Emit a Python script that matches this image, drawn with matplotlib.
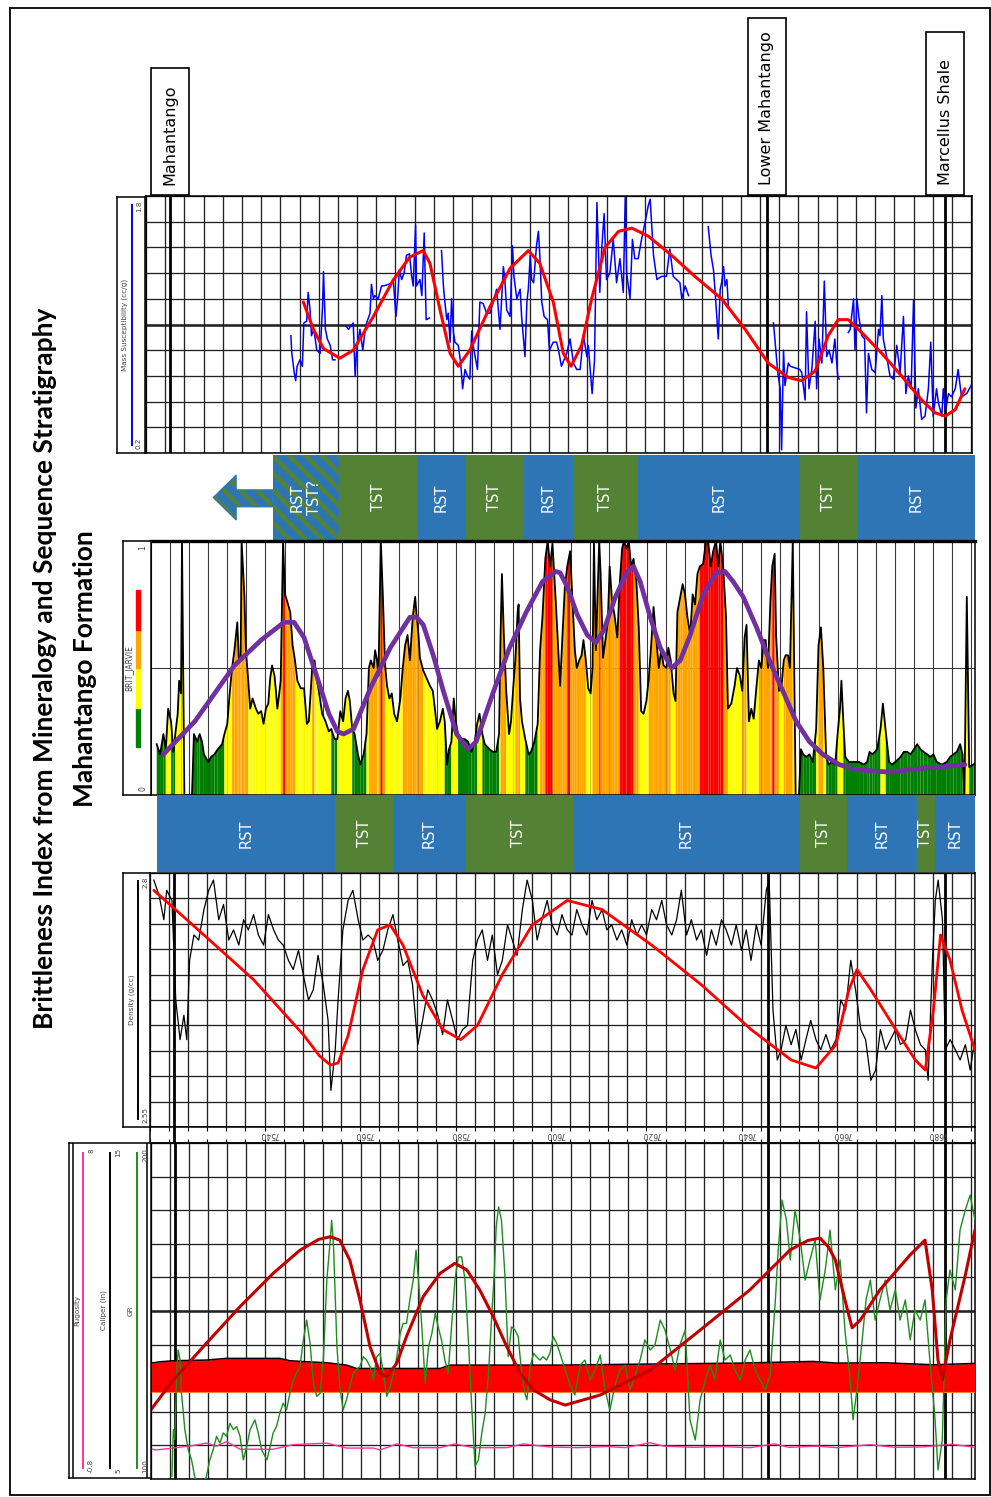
#!/usr/bin/env python3
"""Rotated well-log panel: brittleness index vs. sequence stratigraphy, Mahantango Fm."""

import numpy as np
import matplotlib

matplotlib.use("Agg")
import matplotlib.pyplot as plt
from matplotlib.patches import Rectangle, Polygon
from matplotlib.collections import PolyCollection
from matplotlib.transforms import blended_transform_factory

W, H = 991, 1497
TOP_DEPTH = 7516.0
PX_PER_FT = 4.797
GRID_STEP = 4
nan = float("nan")

FORMATION_DEPTHS = [7521.0, 7645.4, 7682.6]
FORMATION_NAMES = ["Mahantango", "Lower Mahantango", "Marcellus Shale"]

DEPTH_LABELS = [7540, 7560, 7580, 7600, 7620, 7640, 7660, 7680]

SEQ_UPPER_EDGES = [7542.4, 7556.3, 7572.5, 7582.5, 7594.6, 7605.0, 7618.6, 7652.3, 7664.4, 7688.8]
SEQ_UPPER_NAMES = ["RST\nTST?", "TST", "RST", "TST", "RST", "TST", "RST", "TST", "RST"]
SEQ_LOWER_EDGES = [7518.2, 7555.4, 7567.5, 7582.5, 7605.0, 7652.3, 7662.1, 7676.7, 7680.5, 7688.8]
SEQ_LOWER_NAMES = ["RST", "TST", "RST", "TST", "RST", "TST", "RST", "TST", "RST"]

# mass susceptibility (cc/g)
MS_CURVE = [
    (7546.2, 0.93), (7546.4, 0.82), (7546.9, 0.70), (7547.2, 0.65), (7547.5, 0.74), (7548.1, 0.78),
    (7548.6, 0.74), (7548.9, 1.01), (7549.5, 1.02), (7549.8, 1.20), (7550.2, 1.09), (7550.5, 0.93),
    (7551.0, 0.97), (7551.6, 0.84), (7552.3, 0.82), (7552.8, 1.11), (7553.0, 1.33), (7553.4, 0.97),
    (7553.8, 0.91), (7554.4, 0.87), (7554.9, 0.78), (7555.4, 0.78), (nan, nan),
    (7557.7, 0.99), (7558.2, 0.97), (7559.2, 1.01), (7559.6, 0.68), (7559.9, 0.84), (7560.6, 0.97),
    (7561.2, 0.84), (7561.7, 0.97), (7562.0, 1.01), (7562.7, 1.07), (7563.0, 1.25), (7563.4, 1.16),
    (7563.7, 1.18), (7564.4, 1.16), (7565.1, 1.24), (7565.5, 1.24), (7567.6, 1.26), (7568.1, 1.05),
    (7568.5, 1.18), (7568.8, 1.34), (7569.3, 1.28), (7569.8, 1.32), (7570.3, 1.43), (7570.9, 1.44),
    (7571.4, 1.30), (7571.7, 1.24), (7572.2, 1.62), (7572.4, 1.24), (7573.1, 1.28), (7573.5, 1.18),
    (7574.0, 1.57), (7574.2, 1.30), (7574.4, 1.03), (7575.1, 1.04), (nan, nan),
    (7577.6, 1.46), (7578.0, 1.24), (7578.3, 1.14), (7578.7, 1.03), (7579.0, 1.07), (7579.4, 0.89),
    (7579.7, 1.16), (7580.1, 0.95), (7580.4, 0.89), (7581.1, 0.87), (7581.6, 0.76), (7582.0, 0.60),
    (7582.5, 0.72), (7583.0, 0.68), (7583.5, 0.66), (7583.9, 0.96), (7584.2, 0.87), (7585.1, 0.72),
    (7585.6, 1.14), (7586.3, 1.13), (7587.0, 1.07), (7587.7, 1.07), (7588.4, 1.14), (7589.1, 1.22),
    (7589.8, 0.97), (7590.5, 1.36), (7590.8, 1.28), (7591.2, 1.09), (7591.9, 1.05), (7592.4, 1.49),
    (7592.7, 1.30), (7593.3, 1.16), (7594.0, 1.22), (7594.3, 1.05), (7595.0, 0.80), (7595.4, 1.14),
    (7595.7, 1.22), (7596.1, 1.43), (7596.4, 1.28), (7596.8, 1.26), (7597.4, 1.49), (7597.8, 1.58),
    (7598.1, 1.43), (7598.5, 1.14), (7599.0, 1.05), (7599.7, 1.03), (7600.1, 0.84), (7600.9, 0.89),
    (7601.6, 0.89), (7602.0, 0.84), (7602.6, 0.74), (7603.7, 0.82), (7604.4, 0.91), (7605.1, 0.76),
    (7605.8, 0.72), (7606.5, 0.72), (7607.2, 0.93), (7607.9, 0.80), (7608.2, 0.87), (7609.0, 0.57),
    (7609.5, 0.78), (7610.0, 1.76), (7610.6, 1.20), (7611.0, 1.47), (7611.5, 1.69), (7612.0, 1.28),
    (7612.7, 1.32), (7613.4, 1.53), (7614.1, 1.26), (7614.8, 1.41), (7615.5, 1.20), (7615.9, 1.79),
    (7616.2, 1.32), (7616.9, 1.16), (7617.4, 1.53), (7617.9, 1.41), (7618.6, 1.41), (7619.3, 1.53),
    (7620.0, 1.63), (7620.7, 1.74), (7621.1, 1.78), (7621.8, 1.43), (7622.5, 1.28), (7623.5, 1.30),
    (7624.5, 1.30), (7625.2, 1.47), (7625.9, 1.30), (7626.6, 1.28), (7627.3, 1.26), (7627.7, 1.16),
    (7628.4, 1.24), (7629.1, 1.18), (nan, nan),
    (7633.2, 1.61), (7633.8, 1.43), (7634.3, 1.34), (7634.6, 1.22), (7635.3, 0.91), (7635.7, 1.22),
    (7636.0, 1.26), (7636.4, 1.36), (7636.7, 1.24), (7637.1, 1.28), (7637.4, 1.11), (nan, nan),
    (7646.8, 1.01), (7647.1, 0.91), (7647.7, 0.70), (7648.2, 0.60), (7648.5, 0.22), (7648.9, 0.84),
    (7649.2, 0.62), (7649.9, 0.76), (7650.3, 0.74), (7652.3, 0.72), (7652.7, 0.70), (7653.4, 0.53),
    (7653.7, 1.08), (7654.2, 0.60), (7654.8, 0.72), (7655.5, 1.02), (7655.8, 0.60), (7656.3, 0.91),
    (7656.9, 0.76), (7657.4, 1.27), (7657.9, 0.80), (7658.4, 0.84), (7659.0, 0.76), (7659.6, 0.91),
    (7660.2, 0.68), (7660.5, 0.66), (nan, nan),
    (7662.4, 0.95), (7662.8, 0.97), (7663.5, 1.16), (7663.8, 0.84), (7664.2, 1.16), (7664.6, 1.05),
    (7665.2, 0.93), (7665.8, 0.91), (7666.2, 0.45), (7666.6, 0.82), (7667.3, 0.72), (7668.0, 0.70),
    (7668.7, 0.97), (7669.0, 0.93), (7669.4, 1.18), (7669.7, 0.91), (7670.4, 0.80), (7671.1, 0.68),
    (7671.8, 0.66), (7672.5, 0.87), (7673.2, 0.70), (7673.9, 1.05), (7674.4, 0.57), (7674.9, 0.68),
    (7675.5, 0.60), (7676.0, 1.15), (7676.5, 0.48), (7677.0, 0.60), (7677.7, 0.41), (7678.4, 0.43),
    (7679.1, 0.60), (7679.6, 0.89), (7680.1, 0.43), (7680.8, 0.60), (7681.2, 0.51), (7681.9, 0.43),
    (7682.2, 0.60), (7682.7, 0.47), (7683.3, 0.57), (7683.9, 0.55), (7684.7, 0.60), (7685.3, 0.72),
    (7686.0, 0.55), (7687.1, 0.57), (7688.0, 0.62),
]
MS_TREND = [
    (7548.8, 1.14), (7550.9, 0.97), (7553.0, 0.85), (7556.4, 0.79), (7559.2, 0.84), (7563.4, 1.05),
    (7567.6, 1.28), (7571.0, 1.42), (7573.8, 1.46), (7575.2, 1.38), (7577.3, 1.09), (7579.4, 0.82),
    (7581.1, 0.74), (7583.5, 0.84), (7587.7, 1.11), (7591.9, 1.35), (7595.7, 1.46), (7598.1, 1.38),
    (7600.9, 1.14), (7603.0, 0.82), (7604.6, 0.74), (7606.8, 0.87), (7608.9, 1.16), (7611.7, 1.48),
    (7614.5, 1.58), (7617.3, 1.60), (7620.7, 1.55), (7625.6, 1.43), (7630.4, 1.30), (7636.0, 1.16),
    (7640.9, 0.97), (7645.7, 0.76), (7649.9, 0.67), (7652.7, 0.65), (7655.5, 0.71), (7658.2, 0.93),
    (7660.3, 1.03), (7662.4, 1.03), (7665.2, 0.95), (7669.4, 0.82), (7673.5, 0.68), (7677.7, 0.53),
    (7680.5, 0.45), (7682.6, 0.43), (7684.7, 0.47), (7686.7, 0.60),
]

# BRIT_JARVIE brittleness index
BRIT_CURVE = [
    (7517.2, 0.20), (7517.9, 0.16), (7518.6, 0.24), (7519.1, 0.18), (7519.6, 0.34), (7520.2, 0.29),
    (7520.7, 0.17), (7521.1, 0.24), (7521.6, 0.32), (7521.9, 0.45), (7522.3, 0.40), (7522.5, 1.00),
    (7523.0, 0.00), (7524.6, 0.00), (7525.0, 0.24), (7525.7, 0.21), (7526.2, 0.24), (7526.7, 0.21),
    (7527.1, 0.16), (7528.0, 0.13), (7528.6, 0.15), (7529.3, 0.16), (7530.0, 0.18), (7530.9, 0.20),
    (7531.4, 0.24), (7532.0, 0.28), (7532.5, 0.40), (7533.0, 0.50), (7533.5, 0.57), (7534.1, 0.68),
    (7534.4, 0.54), (7534.8, 0.53), (7535.0, 1.00), (7535.6, 0.78), (7535.9, 0.57), (7536.4, 0.45),
    (7536.8, 0.34), (7537.3, 0.38), (7538.0, 0.34), (7538.5, 0.32), (7539.1, 0.33), (7539.6, 0.28),
    (7540.1, 0.34), (7540.6, 0.36), (7541.0, 0.46), (7541.4, 0.51), (7541.9, 0.47), (7542.2, 0.41),
    (7542.5, 0.34), (7542.9, 0.40), (7543.2, 0.45), (7543.7, 1.00), (7544.1, 0.79), (7544.6, 0.76),
    (7545.2, 0.72), (7545.7, 0.59), (7546.2, 0.53), (7546.7, 0.45), (7547.4, 0.42), (7548.1, 0.42),
    (7548.7, 0.28), (7549.1, 0.29), (7549.8, 0.50), (7550.3, 0.53), (7550.7, 0.46), (7551.2, 0.41),
    (7551.9, 0.32), (7552.6, 0.29), (7553.3, 0.25), (7553.8, 0.26), (7554.5, 0.22), (7555.1, 0.22),
    (7555.7, 0.33), (7556.3, 0.29), (7556.8, 0.38), (7557.3, 0.41), (7557.7, 0.37), (7558.2, 0.26),
    (7558.7, 0.24), (7559.4, 0.16), (7559.9, 0.12), (7560.6, 0.16), (7561.2, 0.24), (7561.7, 0.50),
    (7562.1, 0.53), (7562.7, 0.50), (7563.0, 0.57), (7563.4, 0.53), (7563.7, 0.47), (7564.2, 1.00),
    (7564.6, 0.80), (7565.1, 0.51), (7565.5, 0.43), (7566.0, 0.38), (7566.5, 0.40), (7567.0, 0.32),
    (7567.6, 0.29), (7568.3, 0.38), (7568.8, 0.50), (7569.3, 0.59), (7569.8, 0.63), (7570.3, 0.53),
    (7570.9, 0.70), (7571.4, 0.78), (7571.7, 0.71), (7572.1, 0.63), (7572.4, 0.54), (7573.1, 0.49),
    (7573.8, 0.46), (7574.5, 0.43), (7575.1, 0.41), (7575.6, 0.33), (7576.0, 0.26), (7576.6, 0.29),
    (7577.2, 0.34), (7577.6, 0.29), (7578.1, 0.12), (7578.5, 0.18), (7579.0, 0.21), (7579.5, 0.38),
    (7579.9, 0.29), (7580.4, 0.24), (7581.1, 0.22), (7581.8, 0.22), (7582.5, 0.21), (7583.2, 0.17),
    (7583.9, 0.21), (7584.4, 0.28), (7584.9, 0.32), (7585.5, 0.24), (7586.0, 0.20), (7587.0, 0.18),
    (7587.7, 0.17), (7588.4, 0.17), (7589.0, 0.24), (7589.3, 0.62), (7589.6, 0.87), (7590.0, 0.63),
    (7590.5, 0.41), (7591.1, 0.24), (7591.5, 0.29), (7592.0, 0.43), (7592.4, 0.53), (7592.9, 0.72),
    (7593.1, 0.75), (7593.4, 0.38), (7593.8, 0.29), (7594.5, 0.22), (7595.2, 0.16), (7595.7, 0.17),
    (7596.4, 0.21), (7597.1, 0.28), (7597.6, 0.57), (7598.1, 0.70), (7598.7, 0.93), (7599.2, 1.00),
    (7599.7, 0.90), (7600.2, 0.99), (7600.9, 0.76), (7601.8, 0.43), (7602.3, 0.63), (7602.8, 0.82),
    (7603.3, 0.90), (7603.9, 0.96), (7604.4, 0.76), (7604.9, 0.57), (7605.3, 0.50), (7605.8, 0.53),
    (7606.3, 0.55), (7606.7, 0.61), (7607.2, 0.53), (7607.7, 0.42), (7608.2, 0.40), (7608.6, 0.50),
    (7608.9, 1.00), (7609.3, 0.57), (7610.0, 1.00), (7610.3, 0.87), (7610.8, 0.54), (7611.3, 0.61),
    (7611.8, 0.68), (7612.2, 0.90), (7612.7, 0.76), (7613.2, 0.71), (7613.8, 0.62), (7614.3, 0.83),
    (7614.8, 0.97), (7615.2, 1.00), (7615.7, 0.97), (7616.2, 1.00), (7616.7, 0.90), (7617.2, 0.93),
    (7617.8, 0.84), (7618.3, 0.66), (7618.8, 0.33), (7619.3, 0.32), (7619.9, 0.37), (7620.4, 0.46),
    (7620.9, 0.59), (7621.4, 0.74), (7621.9, 0.63), (7622.5, 0.50), (7623.0, 0.57), (7623.5, 0.51),
    (7624.1, 0.50), (7624.5, 0.58), (7625.0, 0.53), (7625.6, 0.40), (7626.0, 0.37), (7626.4, 0.72),
    (7627.0, 0.78), (7627.5, 0.83), (7628.0, 0.79), (7628.5, 0.70), (7629.1, 0.63), (7629.6, 0.79),
    (7630.1, 0.75), (7630.6, 0.87), (7631.1, 0.90), (7631.8, 0.91), (7632.4, 1.00), (7632.9, 0.99),
    (7633.4, 0.90), (7633.9, 0.96), (7634.5, 1.00), (7635.0, 0.90), (7635.4, 1.00), (7636.0, 0.90),
    (7636.6, 0.70), (7637.0, 0.34), (7637.7, 0.36), (7638.4, 0.43), (7638.9, 0.50), (7639.5, 0.47),
    (7640.0, 0.41), (7640.5, 0.62), (7640.9, 0.67), (7641.4, 0.29), (7641.9, 0.34), (7642.4, 0.30),
    (7643.0, 0.43), (7643.5, 0.53), (7644.0, 0.50), (7644.5, 0.61), (7644.9, 0.61), (7645.4, 0.50),
    (7645.9, 0.76), (7646.3, 0.90), (7646.8, 0.95), (7647.1, 0.63), (7647.7, 0.41), (7648.2, 0.42),
    (7648.7, 0.53), (7649.1, 0.55), (7649.6, 0.55), (7650.0, 0.50), (7650.6, 1.00), (7651.2, 0.00),
    (7651.9, 0.00), (7652.3, 0.18), (7652.8, 0.16), (7653.4, 0.15), (7654.1, 0.16), (7654.8, 0.13),
    (7655.5, 0.26), (7656.0, 0.59), (7656.5, 0.66), (7657.0, 0.50), (7657.6, 0.15), (7658.1, 0.12),
    (7658.8, 0.13), (7659.5, 0.12), (7660.0, 0.24), (7660.5, 0.34), (7660.8, 0.45), (7661.2, 0.29),
    (7661.6, 0.15), (7662.4, 0.13), (7663.5, 0.13), (7664.5, 0.13), (7665.5, 0.12), (7666.2, 0.13),
    (7666.7, 0.17), (7667.3, 0.16), (7667.8, 0.17), (7668.3, 0.18), (7669.0, 0.26), (7669.5, 0.36),
    (7670.1, 0.25), (7670.8, 0.13), (7671.4, 0.12), (7672.1, 0.13), (7673.2, 0.15), (7673.9, 0.17),
    (7674.6, 0.17), (7675.3, 0.16), (7676.0, 0.18), (7676.7, 0.20), (7677.4, 0.18), (7678.0, 0.17),
    (7678.8, 0.16), (7679.4, 0.15), (7680.1, 0.16), (7680.8, 0.13), (7681.9, 0.12), (7682.9, 0.13),
    (7683.6, 0.15), (7684.3, 0.16), (7685.0, 0.17), (7685.7, 0.20), (7686.2, 0.16), (7686.6, 0.00),
    (7687.1, 0.78), (7687.6, 0.11), (7688.5, 0.12), (7689.2, 0.13),
]
BRIT_TREND = [
    (7518.6, 0.16), (7525.2, 0.29), (7533.5, 0.51), (7539.1, 0.61), (7543.9, 0.68), (7546.0, 0.68),
    (7548.1, 0.62), (7550.9, 0.46), (7553.3, 0.32), (7555.1, 0.25), (7556.4, 0.24), (7558.5, 0.26),
    (7562.0, 0.42), (7566.2, 0.58), (7570.3, 0.70), (7571.7, 0.70), (7573.1, 0.67), (7575.2, 0.55),
    (7577.3, 0.41), (7580.1, 0.24), (7582.5, 0.18), (7584.2, 0.21), (7587.7, 0.40), (7591.2, 0.58),
    (7594.7, 0.72), (7598.1, 0.84), (7600.9, 0.88), (7601.8, 0.875), (7603.3, 0.82), (7605.4, 0.71),
    (7607.5, 0.63), (7609.3, 0.60), (7611.0, 0.65), (7613.4, 0.78), (7615.9, 0.88), (7617.2, 0.90),
    (7618.6, 0.84), (7620.7, 0.70), (7622.8, 0.58), (7625.2, 0.50), (7627.0, 0.53), (7629.1, 0.63),
    (7631.8, 0.79), (7634.6, 0.875), (7636.4, 0.88), (7638.1, 0.84), (7640.2, 0.78), (7643.0, 0.66),
    (7645.7, 0.53), (7648.5, 0.41), (7651.3, 0.29), (7654.1, 0.21), (7656.9, 0.16), (7660.3, 0.12),
    (7663.8, 0.10), (7670.8, 0.09), (7677.7, 0.105), (7681.2, 0.11), (7686.7, 0.12),
]
BRIT_BREAKS = [0.25, 0.5, 0.89]
BRIT_COLORS = ["#008000", "#FFFF00", "#FFA500", "#FF0000"]

# bulk density (g/cc)
DEN_CURVE = [
    (7516.8, 2.793), (7517.9, 2.778), (7518.9, 2.754), (7519.5, 2.783), (7520.6, 2.773), (7521.4, 2.675),
    (7522.3, 2.636), (7523.1, 2.660), (7523.7, 2.636), (7524.3, 2.714), (7525.2, 2.739), (7526.2, 2.734),
    (7527.3, 2.764), (7528.3, 2.783), (7529.3, 2.793), (7530.4, 2.754), (7531.4, 2.769), (7532.5, 2.734),
    (7533.5, 2.744), (7534.6, 2.729), (7535.6, 2.754), (7536.6, 2.744), (7537.7, 2.759), (7538.7, 2.739),
    (7539.8, 2.729), (7540.8, 2.759), (7541.9, 2.744), (7542.9, 2.734), (7543.9, 2.729), (7545.0, 2.714),
    (7546.0, 2.705), (7547.1, 2.724), (7548.1, 2.700), (7549.2, 2.675), (7550.2, 2.685), (7551.2, 2.719),
    (7552.3, 2.690), (7553.3, 2.655), (7553.9, 2.586), (7554.8, 2.626), (7555.4, 2.675), (7556.4, 2.744),
    (7557.5, 2.773), (7558.5, 2.783), (7559.6, 2.754), (7560.6, 2.734), (7561.7, 2.739), (7562.7, 2.734),
    (7563.7, 2.714), (7564.8, 2.724), (7565.8, 2.744), (7566.9, 2.759), (7567.9, 2.734), (7569.0, 2.709),
    (7570.0, 2.714), (7571.0, 2.690), (7572.1, 2.631), (7573.1, 2.655), (7574.2, 2.685), (7575.2, 2.675),
    (7576.3, 2.660), (7577.3, 2.641), (7578.3, 2.675), (7579.4, 2.655), (7580.4, 2.636), (7581.5, 2.646),
    (7582.5, 2.650), (7583.6, 2.714), (7584.6, 2.734), (7585.6, 2.744), (7586.7, 2.714), (7587.7, 2.739),
    (7588.8, 2.700), (7589.8, 2.714), (7590.9, 2.749), (7591.9, 2.734), (7592.9, 2.719), (7594.0, 2.764),
    (7595.0, 2.793), (7596.1, 2.773), (7597.1, 2.734), (7598.1, 2.754), (7599.2, 2.773), (7600.2, 2.749),
    (7601.3, 2.739), (7602.3, 2.759), (7603.4, 2.744), (7604.4, 2.739), (7605.4, 2.764), (7606.5, 2.749),
    (7607.5, 2.739), (7608.6, 2.773), (7609.6, 2.754), (7610.7, 2.764), (7611.7, 2.744), (7612.7, 2.749),
    (7613.8, 2.734), (7614.8, 2.744), (7615.9, 2.729), (7616.9, 2.754), (7618.0, 2.739), (7619.0, 2.749),
    (7620.0, 2.739), (7621.1, 2.764), (7622.1, 2.754), (7623.2, 2.773), (7624.2, 2.749), (7625.3, 2.739),
    (7626.3, 2.754), (7627.3, 2.783), (7628.4, 2.739), (7629.4, 2.754), (7630.5, 2.734), (7631.5, 2.744),
    (7632.6, 2.719), (7633.6, 2.744), (7634.6, 2.729), (7635.7, 2.754), (7636.7, 2.744), (7637.8, 2.729),
    (7638.8, 2.749), (7639.9, 2.724), (7640.9, 2.744), (7641.9, 2.714), (7643.0, 2.749), (7644.0, 2.729),
    (7645.1, 2.783), (7645.7, 2.793), (7646.5, 2.665), (7647.4, 2.616), (7648.2, 2.626), (7649.2, 2.650),
    (7650.3, 2.631), (7651.3, 2.646), (7652.4, 2.616), (7653.4, 2.636), (7654.4, 2.655), (7655.5, 2.636),
    (7656.5, 2.626), (7657.6, 2.641), (7658.6, 2.626), (7659.7, 2.636), (7660.7, 2.675), (7661.7, 2.665),
    (7662.8, 2.714), (7663.8, 2.685), (7664.9, 2.646), (7665.9, 2.636), (7667.0, 2.596), (7668.0, 2.606),
    (7669.0, 2.646), (7670.1, 2.626), (7671.1, 2.636), (7672.2, 2.646), (7673.2, 2.631), (7674.3, 2.636),
    (7675.3, 2.665), (7676.3, 2.646), (7677.4, 2.631), (7678.4, 2.626), (7679.0, 2.596), (7679.9, 2.714),
    (7680.5, 2.773), (7681.1, 2.793), (7682.0, 2.754), (7682.6, 2.626), (7683.6, 2.636), (7684.7, 2.626),
    (7685.7, 2.616), (7686.8, 2.631), (7687.8, 2.606), (7688.8, 2.636),
]
DEN_TREND = [
    (7516.8, 2.783), (7527.3, 2.739), (7537.7, 2.695), (7548.1, 2.641), (7551.5, 2.620), (7553.8, 2.611),
    (7555.4, 2.613), (7557.5, 2.640), (7560.6, 2.705), (7563.7, 2.744), (7566.3, 2.749), (7569.0, 2.729),
    (7573.1, 2.680), (7577.3, 2.646), (7581.1, 2.636), (7584.6, 2.650), (7589.8, 2.700), (7596.1, 2.749),
    (7603.4, 2.773), (7610.7, 2.764), (7621.1, 2.729), (7631.5, 2.690), (7641.9, 2.646), (7650.3, 2.616),
    (7655.5, 2.608), (7659.7, 2.631), (7662.4, 2.685), (7664.1, 2.705), (7667.0, 2.685), (7672.2, 2.646),
    (7676.3, 2.616), (7678.4, 2.606), (7680.1, 2.665), (7681.6, 2.739), (7683.6, 2.714), (7686.1, 2.665),
    (7688.8, 2.626),
]

# gamma ray (API)
GR_CURVE = [
    (7521.4, 100.8), (7521.7, 114.7), (7522.0, 111.7), (7522.4, 131.5), (7522.7, 138.4), (7523.1, 135.4),
    (7523.4, 125.5), (7524.1, 114.7), (7524.8, 108.7), (7525.5, 105.7), (7526.2, 100.3), (7527.3, 95.0),
    (7528.6, 100.8), (7529.3, 105.7), (7530.0, 108.7), (7530.7, 112.7), (7531.4, 110.7), (7532.1, 113.7),
    (7532.8, 112.7), (7533.5, 116.6), (7534.2, 114.7), (7534.9, 115.6), (7535.6, 112.7), (7536.3, 105.7),
    (7537.0, 109.7), (7537.7, 114.7), (7538.7, 117.6), (7539.4, 113.7), (7540.1, 108.7), (7541.2, 105.7),
    (7541.9, 109.7), (7542.5, 113.7), (7543.2, 115.6), (7543.9, 119.6), (7544.6, 122.6), (7545.3, 120.6),
    (7546.0, 125.5), (7546.7, 129.5), (7547.4, 131.5), (7548.1, 133.5), (7548.8, 141.4), (7549.5, 147.3),
    (7550.2, 140.4), (7550.9, 128.5), (7551.6, 124.6), (7552.3, 125.5), (7553.0, 136.4), (7553.7, 159.2),
    (7554.4, 171.1), (7554.7, 177.0), (7555.1, 169.1), (7555.8, 139.4), (7556.4, 127.5), (7557.1, 120.6),
    (7557.8, 123.6), (7558.5, 127.5), (7559.2, 131.5), (7559.9, 132.5), (7560.6, 133.5), (7561.3, 136.4),
    (7562.0, 135.4), (7562.7, 133.5), (7563.4, 129.5), (7564.1, 136.4), (7564.8, 137.4), (7565.5, 131.5),
    (7566.2, 124.6), (7566.9, 127.5), (7567.6, 131.5), (7568.3, 136.4), (7569.0, 143.4), (7569.6, 146.3),
    (7570.3, 146.3), (7571.0, 153.3), (7571.7, 159.2), (7572.3, 168.1), (7572.8, 159.2), (7573.5, 145.3),
    (7574.2, 128.5), (7574.9, 139.4), (7575.6, 143.4), (7576.3, 149.3), (7576.9, 145.3), (7577.6, 141.4),
    (7578.3, 135.4), (7579.0, 131.5), (7579.7, 145.3), (7580.4, 159.2), (7581.1, 166.1), (7581.8, 166.1),
    (7582.5, 159.2), (7583.2, 141.4), (7583.9, 121.6), (7584.6, 103.8), (7585.3, 105.7), (7586.0, 113.7),
    (7586.7, 119.6), (7587.4, 131.5), (7588.1, 149.3), (7588.6, 161.2), (7589.0, 175.0), (7589.5, 181.0),
    (7590.1, 177.0), (7590.8, 161.2), (7591.5, 136.4), (7592.2, 145.3), (7592.9, 144.4), (7593.6, 142.4),
    (7594.3, 131.5), (7595.0, 125.5), (7595.4, 123.6), (7596.1, 133.5), (7596.8, 137.4), (7597.4, 136.4),
    (7598.1, 135.4), (7598.8, 136.4), (7599.5, 135.4), (7600.2, 137.4), (7600.9, 142.4), (7601.6, 140.4),
    (7602.3, 137.4), (7603.4, 132.4), (7604.4, 128.0), (7605.4, 125.0), (7606.5, 133.9), (7607.5, 135.4),
    (7608.6, 129.5), (7609.6, 132.4), (7610.7, 136.9), (7611.7, 126.5), (7612.7, 120.5), (7613.8, 128.0),
    (7614.8, 132.4), (7615.9, 133.9), (7616.9, 126.5), (7618.0, 130.9), (7619.0, 135.4), (7620.0, 141.4),
    (7621.1, 138.4), (7622.1, 139.9), (7623.2, 147.3), (7624.2, 144.3), (7625.3, 138.4), (7626.3, 132.4),
    (7627.3, 139.9), (7628.4, 144.3), (7629.4, 117.6), (7630.5, 111.6), (7631.5, 123.5), (7632.6, 129.5),
    (7633.6, 133.9), (7634.6, 129.5), (7635.7, 141.4), (7636.7, 135.4), (7637.8, 136.9), (7638.8, 132.4),
    (7639.9, 129.5), (7640.9, 135.4), (7641.9, 138.4), (7643.0, 132.4), (7644.0, 129.5), (7645.1, 126.5),
    (7646.1, 130.9), (7647.2, 153.3), (7647.8, 168.2), (7648.6, 183.0), (7649.5, 177.1), (7650.3, 165.2),
    (7651.3, 180.1), (7652.4, 171.1), (7653.4, 159.2), (7654.4, 165.2), (7655.5, 171.1), (7656.5, 153.3),
    (7657.6, 162.2), (7658.6, 174.1), (7659.7, 156.3), (7660.7, 165.2), (7661.7, 144.3), (7662.8, 129.5),
    (7663.4, 117.6), (7664.2, 126.5), (7665.3, 141.4), (7666.1, 153.3), (7667.0, 159.2), (7668.0, 147.3),
    (7669.0, 153.3), (7670.1, 159.2), (7671.1, 150.3), (7672.2, 156.3), (7673.2, 147.3), (7674.3, 153.3),
    (7675.3, 141.4), (7676.3, 150.3), (7677.4, 147.3), (7678.4, 153.3), (7679.4, 135.4), (7680.5, 117.6),
    (7681.1, 102.7), (7682.0, 111.6), (7682.8, 153.3), (7683.6, 162.2), (7684.7, 156.3), (7685.7, 174.1),
    (7686.8, 180.1), (7687.8, 184.5), (7688.8, 177.1),
]
GR_TREND = [
    (7516.5, 119.6), (7521.7, 129.5), (7528.6, 140.4), (7535.6, 151.3), (7542.5, 161.2), (7548.1, 168.1),
    (7552.0, 171.3), (7554.4, 172.1), (7556.4, 171.1), (7558.5, 165.1), (7560.6, 153.3), (7562.7, 139.4),
    (7564.8, 131.5), (7566.2, 130.5), (7568.3, 134.5), (7570.3, 142.4), (7573.8, 154.3), (7577.3, 161.2),
    (7580.4, 164.2), (7582.9, 162.2), (7585.6, 156.2), (7588.4, 148.3), (7591.2, 139.4), (7594.0, 131.5),
    (7596.8, 126.5), (7600.2, 123.6), (7603.4, 122.0), (7610.7, 125.0), (7621.1, 132.4), (7631.5, 144.3),
    (7641.9, 156.3), (7650.3, 168.2), (7654.0, 171.0), (7656.5, 171.7), (7658.3, 169.0), (7659.7, 165.2),
    (7661.7, 153.3), (7663.2, 145.0), (7664.9, 147.3), (7669.0, 156.3), (7675.3, 166.7), (7678.4, 171.1),
    (7679.9, 156.3), (7681.1, 135.4), (7682.0, 129.5), (7683.6, 141.4), (7686.8, 160.7), (7688.8, 174.1),
]

# caliper (in) and bit size
CALIPER = [
    (7516.5, 8.44), (7519.0, 8.49), (7521.7, 8.52), (7528.6, 8.54), (7532.8, 8.59), (7543.9, 8.59),
    (7546.0, 8.52), (7549.5, 8.49), (7553.7, 8.46), (7557.8, 8.39), (7559.9, 8.29), (7577.3, 8.29),
    (7579.4, 8.39), (7602.3, 8.39), (7620.0, 8.42), (7640.0, 8.45), (7655.0, 8.50), (7660.0, 8.45),
    (7670.0, 8.46), (7680.0, 8.40), (7688.8, 8.44),
]
BIT_SIZE = 7.58

# rugosity
RUGOSITY = [
    (7516.5, 0.01), (7518.0, -0.04), (7521.0, 0.00), (7526.0, 0.08), (7528.6, 0.14), (7530.7, 0.06),
    (7532.8, 0.18), (7535.6, -0.02), (7542.5, -0.02), (7546.7, 0.10), (7553.7, 0.14), (7557.8, 0.01),
    (7563.4, 0.01), (7564.8, -0.04), (7568.3, 0.12), (7571.7, 0.02), (7577.3, 0.02), (7580.4, 0.12),
    (7584.2, 0.02), (7591.2, 0.02), (7594.7, 0.12), (7600.0, 0.04), (7606.0, 0.02), (7612.0, 0.05),
    (7616.0, 0.02), (7621.0, 0.15), (7624.0, 0.06), (7630.0, 0.03), (7636.0, 0.05), (7642.0, 0.02),
    (7647.0, 0.12), (7650.0, 0.03), (7656.0, 0.06), (7660.0, 0.02), (7667.0, 0.10), (7672.0, 0.03),
    (7678.0, 0.04), (7684.0, 0.11), (7688.8, 0.03),
]

BLUE = "#2E75B6"
GREEN = "#548235"
GRID_C = "#222222"
LABEL_C = "#444444"

plt.rcParams["font.family"] = ["DejaVu Sans"]
plt.rcParams["hatch.linewidth"] = 3.2


def cols(points):
    a = np.array(points, dtype=float)
    return a[:, 0], a[:, 1]


def px_axes(fig, x0, y0, x1, y1):
    return fig.add_axes([x0 / W, 1 - y1 / H, (x1 - x0) / W, (y1 - y0) / H])


def track_axes(fig, x0, y0, x1, y1, ylim):
    ax = px_axes(fig, x0, y0, x1, y1)
    ax.set_xlim(TOP_DEPTH + (x0 - 146) / PX_PER_FT, TOP_DEPTH + (x1 - 146) / PX_PER_FT)
    ax.set_ylim(*ylim)
    ax.tick_params(length=0, labelbottom=False, labelleft=False)
    for s in ax.spines.values():
        s.set_linewidth(1.1)
    return ax


def grid_track(ax, n_rows, heavy=None, color=GRID_C, lw=0.95):
    ax.set_xticks(np.arange(7516, 7689, GRID_STEP))
    lo, hi = ax.get_ylim()
    ax.set_yticks(np.linspace(lo, hi, n_rows + 1))
    ax.grid(True, color=color, lw=lw)
    ax.set_axisbelow(True)
    if heavy is not None:
        ax.axhline(heavy, color=GRID_C, lw=1.8, zorder=0.5)


def formation_lines(ax):
    for d in FORMATION_DEPTHS:
        ax.axvline(d, color="black", lw=2.0, zorder=1.5)


def seq_column(ax, edges, names, fs=10.5):
    ax.axis("off")
    for d0, d1, name in zip(edges[:-1], edges[1:], names):
        if name == "TST":
            ax.axvspan(d0, d1, color=GREEN, lw=0)
        elif name == "RST":
            ax.axvspan(d0, d1, color=BLUE, lw=0)
        else:
            ax.axvspan(d0, d1, facecolor=BLUE, edgecolor=GREEN, hatch="\\\\", lw=0)
        ax.text((d0 + d1) / 2, 0.5, name, rotation=90, color="white", fontsize=fs,
                ha="center", va="center", transform=ax.get_xaxis_transform(),
                linespacing=1.25)


def header_scale(ax, text, lo, hi, x_text, x_line, x_val, color, fs=5.2):
    ax.text(x_text, 0.5, text, rotation=90, ha="center", va="center",
            fontsize=fs, color=LABEL_C, transform=ax.transAxes)
    ax.text(x_val, 0.015, lo, rotation=90, ha="center", va="bottom",
            fontsize=fs, color=LABEL_C, transform=ax.transAxes)
    ax.text(x_val, 0.985, hi, rotation=90, ha="center", va="top",
            fontsize=fs, color=LABEL_C, transform=ax.transAxes)
    if color is not None:
        ax.plot([x_line, x_line], [0.03, 0.97], color=color, lw=1.4, transform=ax.transAxes)


def header_axes(fig, x0, y0, x1, y1):
    ax = px_axes(fig, x0, y0, x1, y1)
    ax.set_xticks([])
    ax.set_yticks([])
    for s in ax.spines.values():
        s.set_linewidth(1.1)
    return ax


def main():
    fig = plt.figure(figsize=(W / 100, H / 100), dpi=100)

    # outer frame
    fig.add_artist(Rectangle((10 / W, 1 - 1495 / H), 980 / W, 1487 / H,
                             transform=fig.transFigure, fill=False, ec="black", lw=1.3))

    # titles
    title_font = ["Lato", "DejaVu Sans"]
    fig.text(45 / W, 1 - 668 / H, "Brittleness Index from Mineralogy and Sequence Stratigraphy",
             rotation=90, ha="center", va="center", fontsize=19, fontweight="bold",
             family=title_font)
    fig.text(85 / W, 1 - 669 / H, "Mahantango Formation", rotation=90, ha="center",
             va="center", fontsize=19, fontweight="bold", family=title_font)

    # ---- mass susceptibility
    ax_ms = track_axes(fig, 146, 196, 972, 453, (0.2, 1.8))
    grid_track(ax_ms, 10, heavy=1.0)
    formation_lines(ax_ms)
    d, v = cols(MS_CURVE)
    ax_ms.plot(d, v, color="#0000FF", lw=1.1, zorder=3)
    d, v = cols(MS_TREND)
    ax_ms.plot(d, v, color="#FF0000", lw=2.2, zorder=4, solid_capstyle="round",
               solid_joinstyle="round")

    # formation top labels
    trans = blended_transform_factory(ax_ms.transData, fig.transFigure)
    half = 19 / PX_PER_FT
    for dep, name, top in zip(FORMATION_DEPTHS, FORMATION_NAMES, [68, 18, 32]):
        fig.add_artist(Rectangle((dep - half, 1 - 195 / H), 2 * half, (195 - top) / H,
                                 transform=trans, fc="white", ec="black", lw=1.2))
        fig.text(dep, 1 - 185 / H, name, rotation=90, ha="center", va="bottom",
                 fontsize=11.5, transform=trans)

    # ---- upper sequence column
    ax_su = track_axes(fig, 146, 455, 976, 540, (0, 1))
    seq_column(ax_su, SEQ_UPPER_EDGES, SEQ_UPPER_NAMES)
    arrow = [(7530.0, 0.50), (7534.8, 0.765), (7534.8, 0.59), (SEQ_UPPER_EDGES[0], 0.59),
             (SEQ_UPPER_EDGES[0], 0.39), (7534.8, 0.39), (7534.8, 0.235)]
    ax_su.add_patch(Polygon(arrow, closed=True, facecolor=BLUE, edgecolor=GREEN, hatch="\\\\",
                            lw=0, transform=ax_su.get_xaxis_transform()))
    ax_su.add_patch(Polygon(arrow, closed=True, fill=False, edgecolor=BLUE, lw=0.8,
                            transform=ax_su.get_xaxis_transform()))

    # ---- BRIT track
    ax_b = track_axes(fig, 151, 541, 975, 795, (0, 1))
    ax_b.set_xticks(np.arange(7516, 7689, GRID_STEP))
    ax_b.set_yticks([0.5])
    ax_b.grid(True, color="#3a3a3a", lw=0.8)
    ax_b.set_axisbelow(True)
    ax_b.spines["top"].set_linewidth(2.4)
    d, v = cols(BRIT_CURVE)
    polys, fills = [], []
    for i in range(len(d) - 1):
        polys.append([(d[i], 0), (d[i], v[i]), (d[i + 1], v[i + 1]), (d[i + 1], 0)])
        k = int(np.searchsorted(BRIT_BREAKS, 0.5 * (v[i] + v[i + 1])))
        fills.append(BRIT_COLORS[k])
    ax_b.add_collection(PolyCollection(polys, facecolors=fills, edgecolors="none", zorder=2))
    ax_b.plot(d, v, color="black", lw=1.3, zorder=3)
    d, v = cols(BRIT_TREND)
    ax_b.plot(d, v, color="#7030A0", lw=3.4, zorder=4, solid_capstyle="round",
              solid_joinstyle="round")

    # ---- lower sequence column
    ax_sl = track_axes(fig, 146, 795, 976, 872, (0, 1))
    seq_column(ax_sl, SEQ_LOWER_EDGES, SEQ_LOWER_NAMES)

    # ---- density
    ax_d = track_axes(fig, 150, 873, 975, 1127, (2.55, 2.8))
    grid_track(ax_d, 10)
    formation_lines(ax_d)
    d, v = cols(DEN_CURVE)
    ax_d.plot(d, v, color="black", lw=0.9, zorder=3)
    d, v = cols(DEN_TREND)
    ax_d.plot(d, v, color="#FF0000", lw=2.0, zorder=4, solid_capstyle="round",
              solid_joinstyle="round")

    # ---- depth track
    ax_z = track_axes(fig, 150, 1127, 975, 1143, (0, 1))
    ax_z.set_xticks(np.arange(7516, 7689, GRID_STEP))
    ax_z.tick_params(axis="x", length=3, width=0.8, direction="in", top=True, bottom=True,
                     labelbottom=False)
    formation_lines(ax_z)
    for dep in DEPTH_LABELS:
        ax_z.annotate(str(dep), xy=(dep, 0.5), xycoords=("data", "axes fraction"),
                      xytext=(5, 0), textcoords="offset pixels", rotation=180,
                      ha="center", va="center", fontsize=5.5, color=LABEL_C)

    # ---- GR / caliper / rugosity
    ax_g = track_axes(fig, 151, 1143, 975, 1479, (100, 200))
    grid_track(ax_g, 10, heavy=150)
    formation_lines(ax_g)
    ax_c = track_axes(fig, 151, 1143, 975, 1479, (5, 15))
    ax_c.axis("off")
    d, v = cols(CALIPER)
    ax_c.fill_between(d, BIT_SIZE, v, color="#FF0000", lw=0, zorder=2)
    ax_c.plot(d, v, color="black", lw=1.1, zorder=3)
    ax_c.axhline(BIT_SIZE, color="#FF8040", lw=0.8, zorder=3)
    ax_r = track_axes(fig, 151, 1143, 975, 1479, (-0.8, 8))
    ax_r.axis("off")
    d, v = cols(RUGOSITY)
    ax_r.plot(d, v, color="#FF3399", lw=1.0, zorder=3)
    ax_gr = track_axes(fig, 151, 1143, 975, 1479, (100, 200))
    ax_gr.axis("off")
    d, v = cols(GR_CURVE)
    ax_gr.plot(d, v, color="#1E8C1E", lw=1.0, zorder=3)
    d, v = cols(GR_TREND)
    ax_gr.plot(d, v, color="#C00000", lw=2.2, zorder=4, solid_capstyle="round",
               solid_joinstyle="round")

    # ---- headers
    h = header_axes(fig, 117, 197, 145, 453)
    header_scale(h, "Mass Susceptibility (cc/g)", "0.2", "1.8", 0.29, 0.52, 0.78, "#0000FF")

    h = header_axes(fig, 123, 541, 151, 795)
    header_scale(h, "BRIT_JARVIE", "0", "1", 0.25, 0.5, 0.72, None, fs=5.5)
    bands = [0.189, 0.343, 0.5, 0.65, 0.807]
    for c, b0, b1 in zip(BRIT_COLORS, bands[:-1], bands[1:]):
        h.add_patch(Rectangle((0.45, b0), 0.17, b1 - b0, color=c, transform=h.transAxes))

    h = header_axes(fig, 123, 873, 150, 1127)
    header_scale(h, "Density (g/cc)", "2.55", "2.8", 0.33, 0.55, 0.84, "black")

    h = header_axes(fig, 69, 1143, 151, 1478)
    for xb in [27 / 82, 54 / 82]:
        h.axvline(xb, color="black", lw=1.1)
    header_scale(h, "Rugosity", "-0.8", "8", 8 / 82, 14 / 82, 22 / 82, "#FF3399")
    header_scale(h, "Caliper (in)", "5", "15", 35 / 82, 41 / 82, 49 / 82, "black")
    header_scale(h, "GR", "100", "200", 62 / 82, 68 / 82, 76 / 82, "#1E8C1E")

    fig.savefig("out.png", dpi=100)
    plt.close(fig)


if __name__ == "__main__":
    main()
